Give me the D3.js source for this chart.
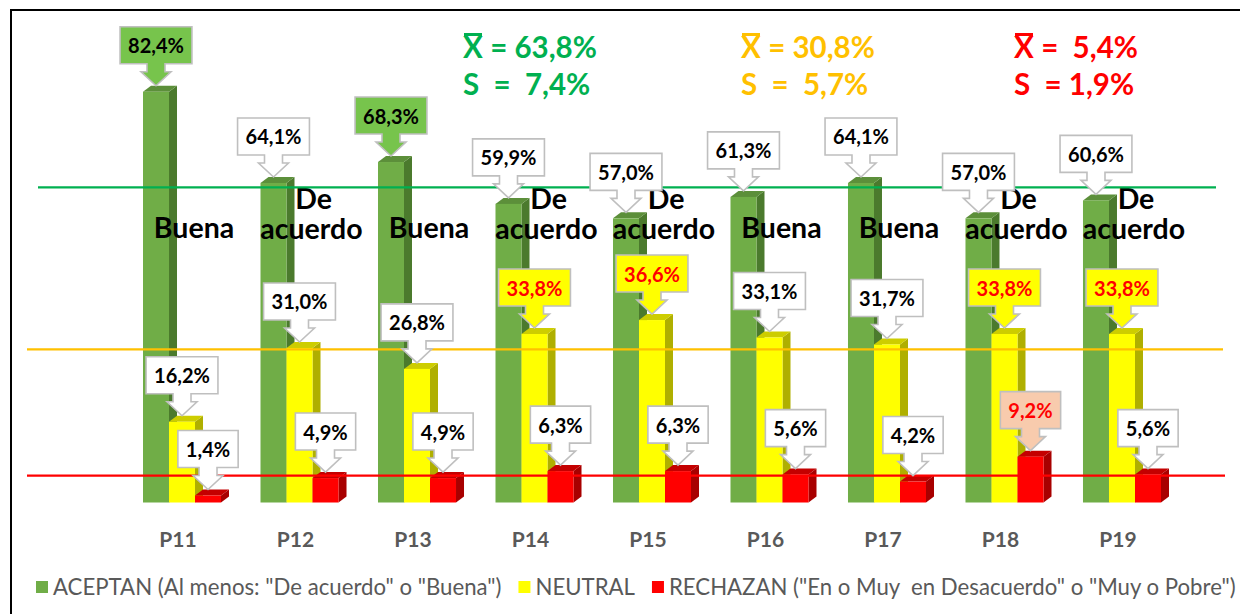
<!DOCTYPE html>
<html>
<head>
<meta charset="utf-8"/>
<title>ACEPTAN / NEUTRAL / RECHAZAN por pregunta</title>
<script src="https://d3js.org/d3.v7.min.js"></script>
<style>
    body { margin: 0; background: #fff; }
    svg { display: block; font-family: Lato, "Open Sans", sans-serif; }
    .pre { white-space: pre; }
</style>
</head>
<body>
<div id="chart"></div>
<script>
// data
var categories = ["P11", "P12", "P13", "P14", "P15", "P16", "P17", "P18", "P19"];
var acceptan = [82.4, 64.1, 68.3, 59.9, 57.0, 61.3, 64.1, 57.0, 60.6];
var neutral  = [16.2, 31.0, 26.8, 33.8, 36.6, 33.1, 31.7, 33.8, 33.8];
var rechazan = [1.4, 4.9, 4.9, 6.3, 6.3, 5.6, 4.2, 9.2, 5.6];
var answerWords = ["Buena", "De acuerdo", "Buena", "De acuerdo", "De acuerdo", "Buena", "Buena", "De acuerdo", "De acuerdo"];
var seriesNames = ["ACEPTAN (Al menos: \"De acuerdo\" o \"Buena\")", "NEUTRAL", "RECHAZAN (\"En o Muy  en Desacuerdo\" o \"Muy o Pobre\")"];
var means = [63.8, 30.8, 5.4];
var stdevs = [7.4, 5.7, 1.9];
// where the reference lines sit in the picture
var lineLevels = [63.2, 30.7, 5.4];

var width = 1240, height = 614;
var fmt = d3.formatLocale({decimal: ",", thousands: ".", grouping: [3], currency: ["", ""]}).format(".1f");

var colors = [
    {front: "#70ad47", side: "#4b7a2d", top: "#5c8f3a", stat: "#00b050", hi: "#77c44c", hiText: "#000"},
    {front: "#ffff00", side: "#afaf00", top: "#cdcd00", stat: "#ffc000", hi: "#ffff00", hiText: "#ff0000"},
    {front: "#ff0000", side: "#a80000", top: "#c40000", stat: "#ff0000", hi: "#f8cbad", hiText: "#ff0000"}
];
var series = [acceptan, neutral, rechazan];

var svg = d3.select("#chart").append("svg")
    .attr("width", width)
    .attr("height", height);

// frame
svg.append("path")
    .attr("d", "M11,614 V10 H1240")
    .attr("fill", "none")
    .attr("stroke", "#000")
    .attr("stroke-width", 2);

var y = d3.scaleLinear().domain([0, 100]).range([502.5, 4]);
var x = d3.scaleBand().domain(categories).range([143, 1161]).paddingInner(0.336).paddingOuter(0);
var xs = d3.scaleBand().domain([0, 1, 2]).range([0, x.bandwidth()]);
var dx = 8, dy = 6;

// 3D bars
var bars = svg.append("g");
categories.forEach(function(cat, i){
    series.forEach(function(vals, s){
        var x0 = x(cat) + xs(s), w = xs.bandwidth(), yt = y(vals[i]), yb = y(0);
        var g = bars.append("g");
        g.append("path")
            .attr("d", "M" + (x0 + w) + "," + yt + " L" + (x0 + w + dx) + "," + (yt - dy) +
                       " L" + (x0 + w + dx) + "," + (yb - dy) + " L" + (x0 + w) + "," + yb + "Z")
            .attr("fill", colors[s].side);
        g.append("path")
            .attr("d", "M" + x0 + "," + yt + " L" + (x0 + dx) + "," + (yt - dy) +
                       " L" + (x0 + w + dx) + "," + (yt - dy) + " L" + (x0 + w) + "," + yt + "Z")
            .attr("fill", colors[s].top);
        g.append("rect")
            .attr("x", x0)
            .attr("y", yt)
            .attr("width", w)
            .attr("height", yb - yt)
            .attr("fill", colors[s].front);
    });
});

// answer words inside the groups
var words = svg.append("g")
    .attr("font-weight", "bold")
    .attr("font-size", 28.5)
    .attr("text-anchor", "middle");
categories.forEach(function(cat, i){
    var cx = x(cat) + x.bandwidth() / 2 + 12;
    var parts = answerWords[i].split(" ");
    if (parts.length == 1){
        words.append("text").attr("x", cx).attr("y", 238).text(parts[0]);
    } else {
        var t = words.append("text").attr("y", 209);
        t.append("tspan").attr("x", cx + 2).text(parts[0]);
        t.append("tspan").attr("x", cx).attr("dy", 30).text(parts[1]);
    }
});

// mean lines
var lineStarts = [38, 27, 27], lineEnds = [1216, 1223, 1225];
lineLevels.forEach(function(v, s){
    svg.append("line")
        .attr("x1", lineStarts[s]).attr("x2", lineEnds[s])
        .attr("y1", y(v)).attr("y2", y(v))
        .attr("stroke", colors[s].stat)
        .attr("stroke-width", 2.2);
});

// callouts
var callouts = svg.append("g");
categories.forEach(function(cat, i){
    series.forEach(function(vals, s){
        var v = vals[i];
        var cx = x(cat) + xs(s) + xs.bandwidth() / 2;
        var tip = y(v) - dy;
        var bottom = tip - 22, top = bottom - 37;
        var hi = v > means[s] + stdevs[s] / 2;
        var g = callouts.append("g");
        var t = g.append("text")
            .attr("x", cx)
            .attr("y", top + 26.5)
            .attr("text-anchor", "middle")
            .attr("font-weight", "bold")
            .attr("font-size", 20)
            .attr("fill", hi ? colors[s].hiText : "#000")
            .text(fmt(v) + "%");
        var half = t.node().getComputedTextLength() / 2 + 8;
        g.insert("path", "text")
            .attr("d", "M" + (cx - half) + "," + top + " H" + (cx + half) + " V" + bottom +
                       " H" + (cx + 9) + " V" + (bottom + 8) + " H" + (cx + 15) +
                       " L" + cx + "," + tip + " L" + (cx - 15) + "," + (bottom + 8) +
                       " H" + (cx - 9) + " V" + bottom + " H" + (cx - half) + "Z")
            .attr("fill", hi ? colors[s].hi : "#fff")
            .attr("stroke", "#bfbfbf")
            .attr("stroke-width", 1.6);
    });
});

// category labels
svg.append("g").selectAll("text")
    .data(categories)
    .enter().append("text")
    .attr("x", function(d){ return x(d) + x.bandwidth() / 2 - 4; })
    .attr("y", 547)
    .attr("text-anchor", "middle")
    .attr("font-weight", "bold")
    .attr("font-size", 21)
    .attr("fill", "#595959")
    .text(function(d){ return d; });

// mean / sd block
var statX = [463, 741, 1014];
var meanGap = [" = ", " = ", " =  "];
var sdText = ["S  =  ", "S  =  ", "S  = "];
means.forEach(function(m, s){
    var g = svg.append("g")
        .attr("font-weight", "bold")
        .attr("font-size", 29.5)
        .attr("fill", colors[s].stat);
    var xt = g.append("text").attr("x", statX[s]).attr("y", 58).text("X");
    var bb = xt.node().getBBox();
    g.append("rect")
        .attr("x", bb.x + 1).attr("y", 33)
        .attr("width", bb.width - 2).attr("height", 3)
        .attr("fill", colors[s].stat);
    g.append("text").attr("class", "pre")
        .attr("x", statX[s] + bb.width).attr("y", 58)
        .text(meanGap[s] + fmt(m) + "%");
    g.append("text").attr("class", "pre")
        .attr("x", statX[s]).attr("y", 95)
        .text(sdText[s] + fmt(stdevs[s]) + "%");
});

// legend
var legend = svg.append("g").attr("font-size", 22.2).attr("fill", "#595959");
var lx = 36;
seriesNames.forEach(function(name, s){
    legend.append("rect")
        .attr("x", lx).attr("y", 581)
        .attr("width", 12).attr("height", 12)
        .attr("fill", colors[s].front);
    var t = legend.append("text").attr("class", "pre")
        .attr("x", lx + 17).attr("y", 595)
        .text(name);
    lx += 17 + t.node().getComputedTextLength() + 17;
});
</script>
</body>
</html>
